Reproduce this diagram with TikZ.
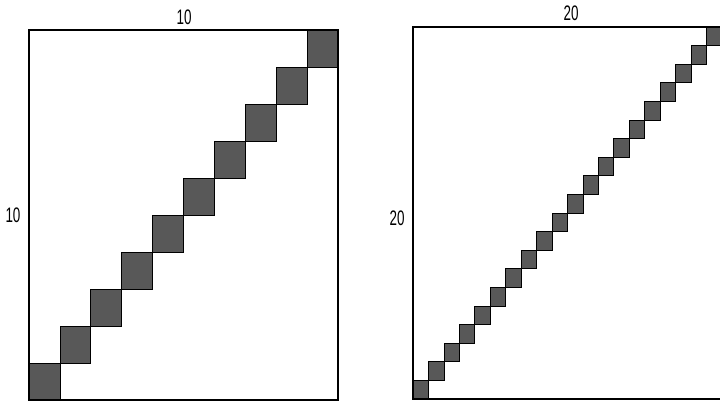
\documentclass[tikz,border=0pt]{standalone}
\usepackage{fontspec}
\setmainfont{Liberation Sans}
\usetikzlibrary{positioning,calc}
\definecolor{blockgray}{HTML}{585858}
\newcommand{\dimfont}{\fontsize{21pt}{25pt}\selectfont}
\tikzset{
  frame/.style={draw=black,line width=1.6pt},
  blocksq/.style={fill=blockgray,draw=black,line width=0.8pt},
  dimlabel/.style={font=\dimfont,inner sep=0pt,transform shape,xscale=0.64}
}
% #1,#2 top left corner; #3,#4 width, height; #5 number of blocks; #6 name
\newcommand{\blockdiag}[6]{%
  \pgfmathsetmacro{\cw}{#3/#5}
  \pgfmathsetmacro{\ch}{#4/#5}
  \foreach \i in {1,...,#5} {
    \draw[blocksq] ({#1+(\i-1)*\cw},{#2+#4-(\i-1)*\ch}) rectangle ++(\cw,-\ch);
  }
  \draw[frame] (#1,#2) rectangle ++(#3,#4);
  \coordinate (#6-nw) at (#1,#2);
  \coordinate (#6-se) at ({#1+#3},{#2+#4});
}

\begin{document}
\begin{tikzpicture}[x=1pt,y=-1pt]
  \useasboundingbox (0,0) rectangle (720,402);
  \fill[white] (0,0) rectangle (720,402);
  \blockdiag{29}{30}{309}{370}{10}{small}
  \blockdiag{413}{27}{309}{372}{20}{large}
  % dimension labels
  \node[dimlabel] (smalltop) at (184,17) {10};
  \node[dimlabel] (smallside) at (13,215) {10};
  \node[dimlabel] (largetop) at (571,13) {20};
  \node[dimlabel] (largeside) at (397,218) {20};
\end{tikzpicture}
\end{document}
